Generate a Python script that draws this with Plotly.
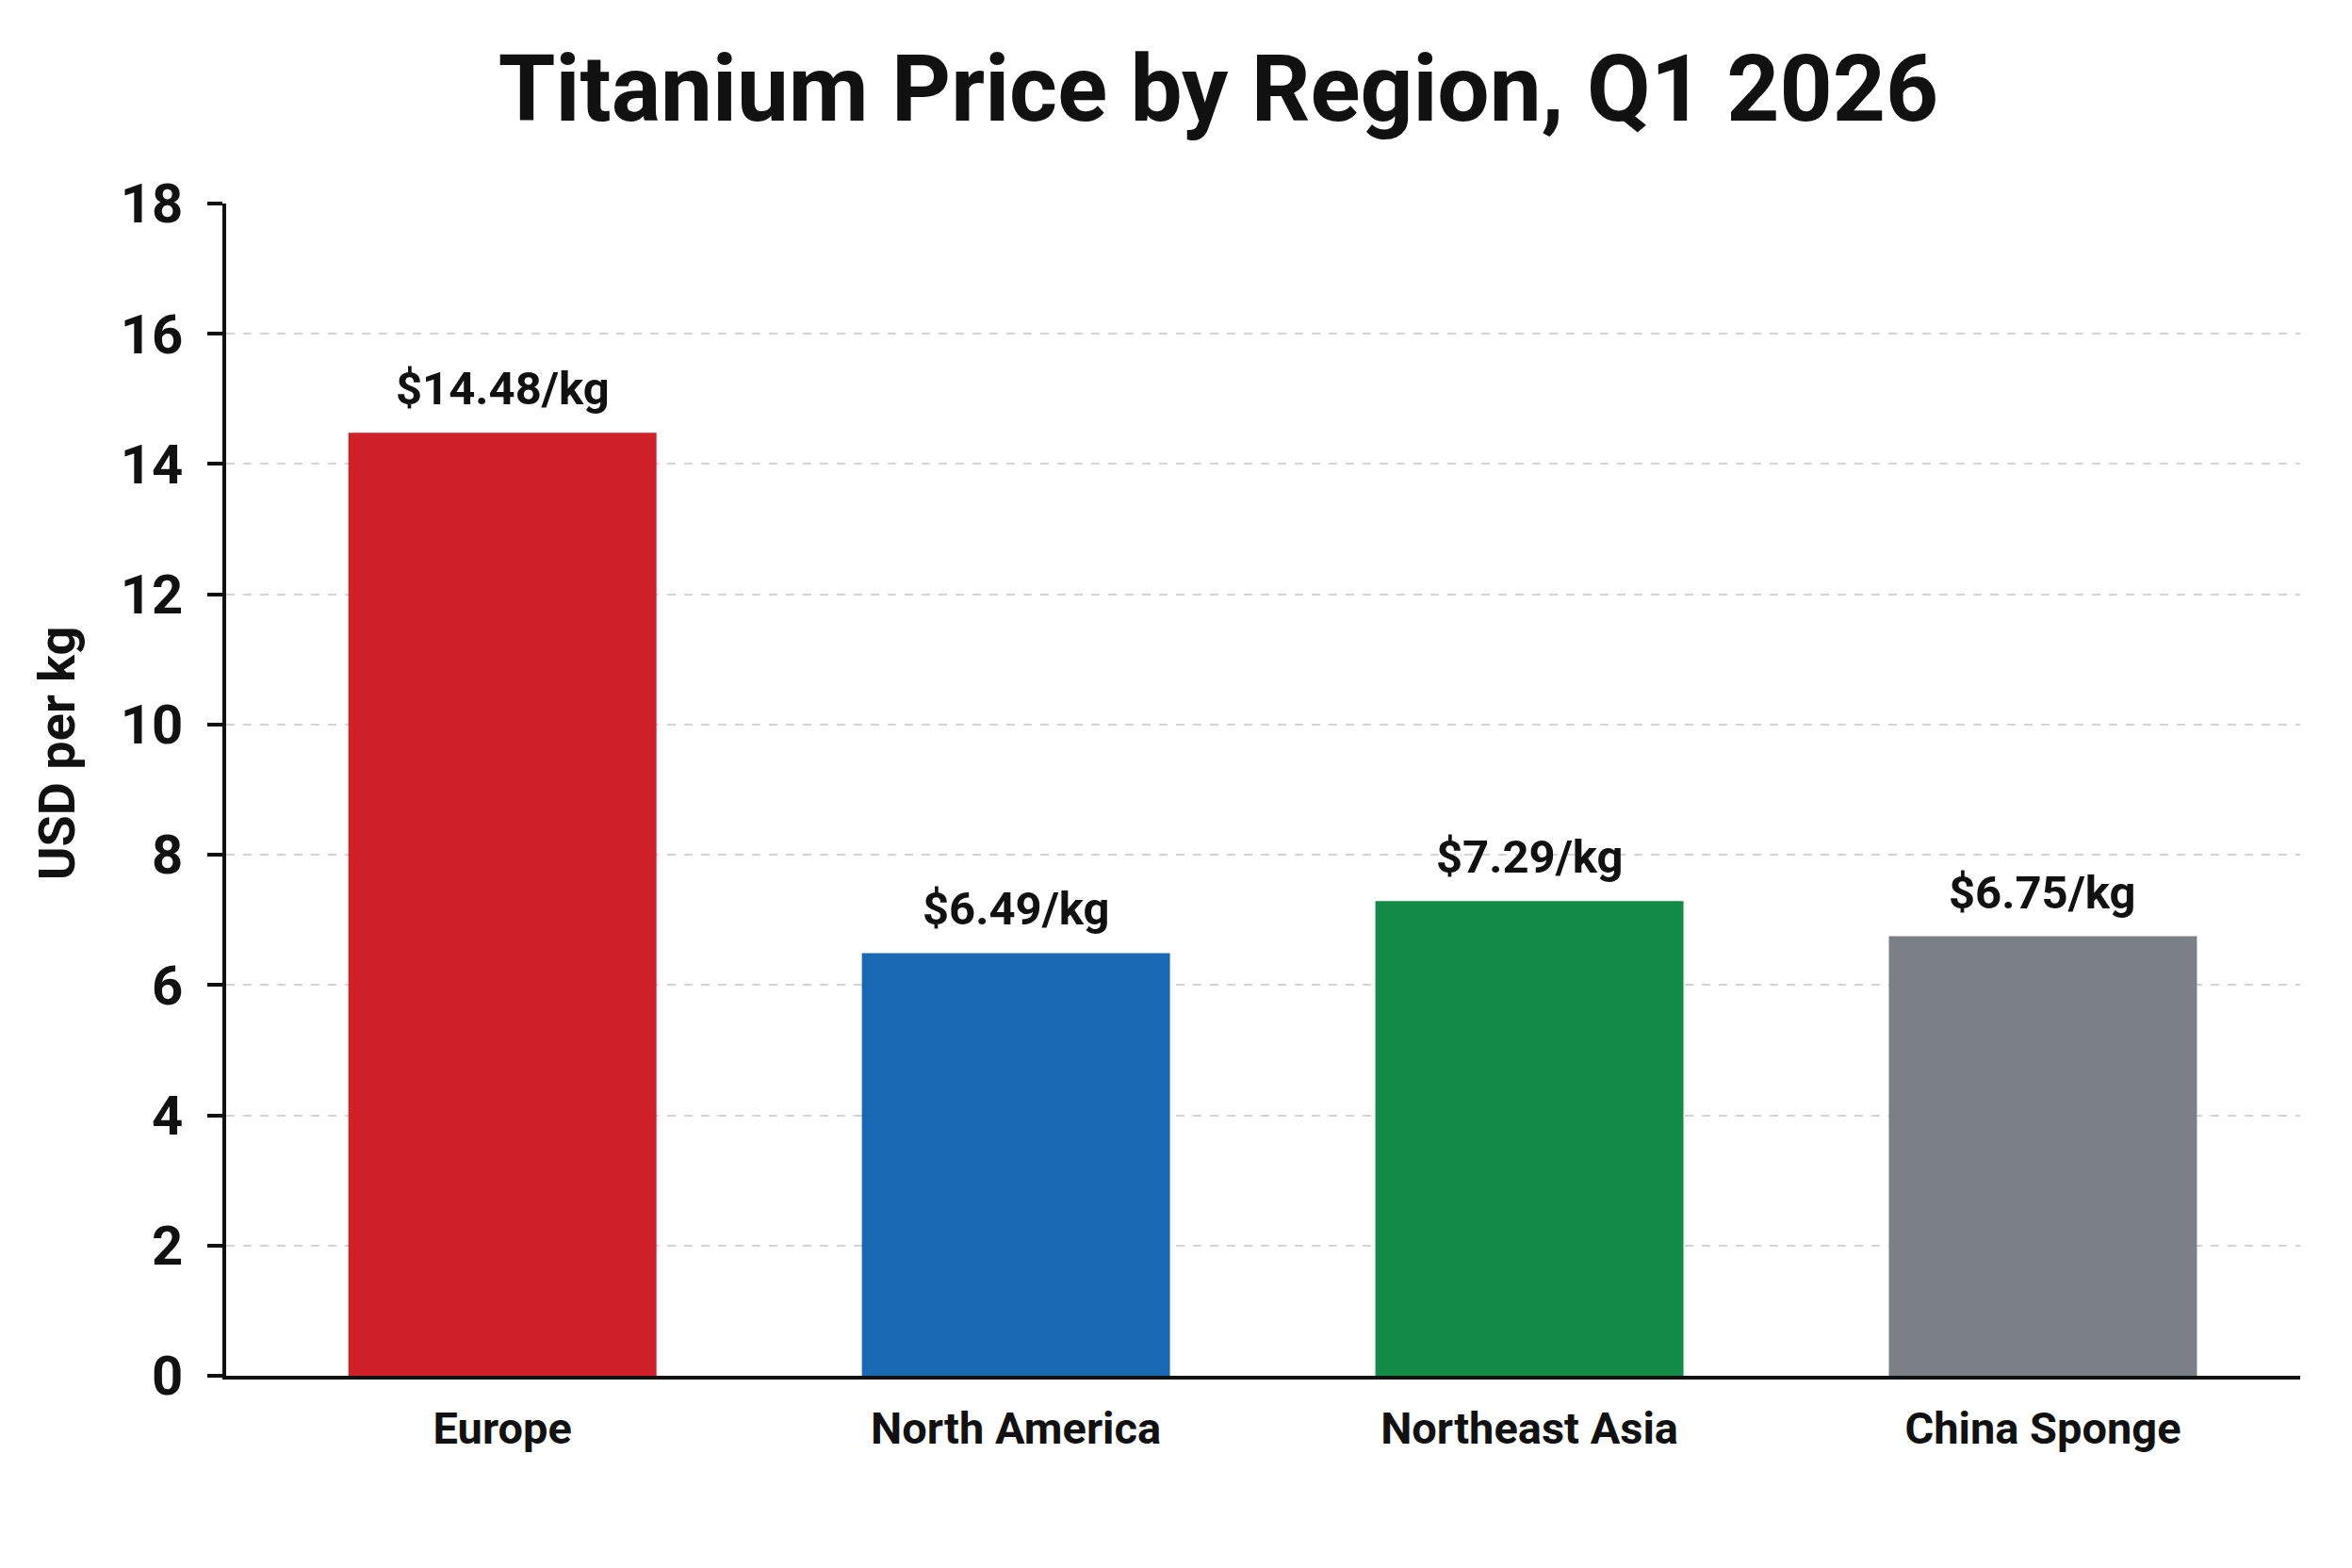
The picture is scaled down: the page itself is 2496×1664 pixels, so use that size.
import plotly.graph_objects as go

categories = ["Europe", "North America", "Northeast Asia", "China Sponge"]
prices = [14.48, 6.49, 7.29, 6.75]
labels = ["$14.48/kg", "$6.49/kg", "$7.29/kg", "$6.75/kg"]
colors = ["#D0212A", "#1868B4", "#138A46", "#7B8087"]
y_ticks = [0, 2, 4, 6, 8, 10, 12, 14, 16, 18]

W, H = 2496, 1664
L, R, T, B = 240, 55, 216, 204
FONT = "Roboto, Arial, sans-serif"

fig = go.Figure()
fig.add_trace(go.Bar(
    x=categories, y=prices, width=0.6,
    marker=dict(color=colors, line=dict(width=0)),
    hoverinfo="skip", showlegend=False,
))

for c, v, t in zip(categories, prices, labels):
    fig.add_annotation(
        x=c, y=v, text=t, showarrow=False, yanchor="bottom", yshift=16,
        font=dict(family=FONT, size=49, color="#111111", weight="bold"),
    )

fig.add_annotation(
    xref="paper", yref="paper", x=(60 - L) / (W - L - R), y=(H - B - 800) / (H - T - B),
    text="USD per kg", textangle=-90, showarrow=False, xanchor="center", yanchor="middle",
    font=dict(family=FONT, size=54, color="#111111", weight="bold"),
)

fig.update_layout(
    width=W, height=H,
    margin=dict(l=L, r=R, t=T, b=B, pad=0),
    paper_bgcolor="white", plot_bgcolor="white",
    title=dict(
        text="Titanium Price by Region, Q1 2026",
        x=(1293 - L) / (W - L - R), xref="paper", xanchor="center",
        y=1 - 94 / H, yref="container", yanchor="middle",
        font=dict(family=FONT, size=98, color="#111111", weight="bold"),
    ),
    xaxis=dict(
        type="category", range=[-0.538, 3.501],
        showline=True, linecolor="#111111", linewidth=4,
        ticks="", showgrid=False, zeroline=False,
        tickfont=dict(family=FONT, size=47, color="#111111", weight="bold"),
        ticklabelstandoff=12,
    ),
    yaxis=dict(
        range=[0, 18], tickvals=y_ticks,
        showline=True, linecolor="#111111", linewidth=4,
        ticks="outside", ticklen=16, tickwidth=4, tickcolor="#111111",
        showgrid=True, gridcolor="#D4D4D4", gridwidth=2, griddash="dash",
        zeroline=False,
        tickfont=dict(family=FONT, size=58, color="#111111", weight="bold"),
        ticklabelstandoff=14,
    ),
)

fig.write_html("out.html")
